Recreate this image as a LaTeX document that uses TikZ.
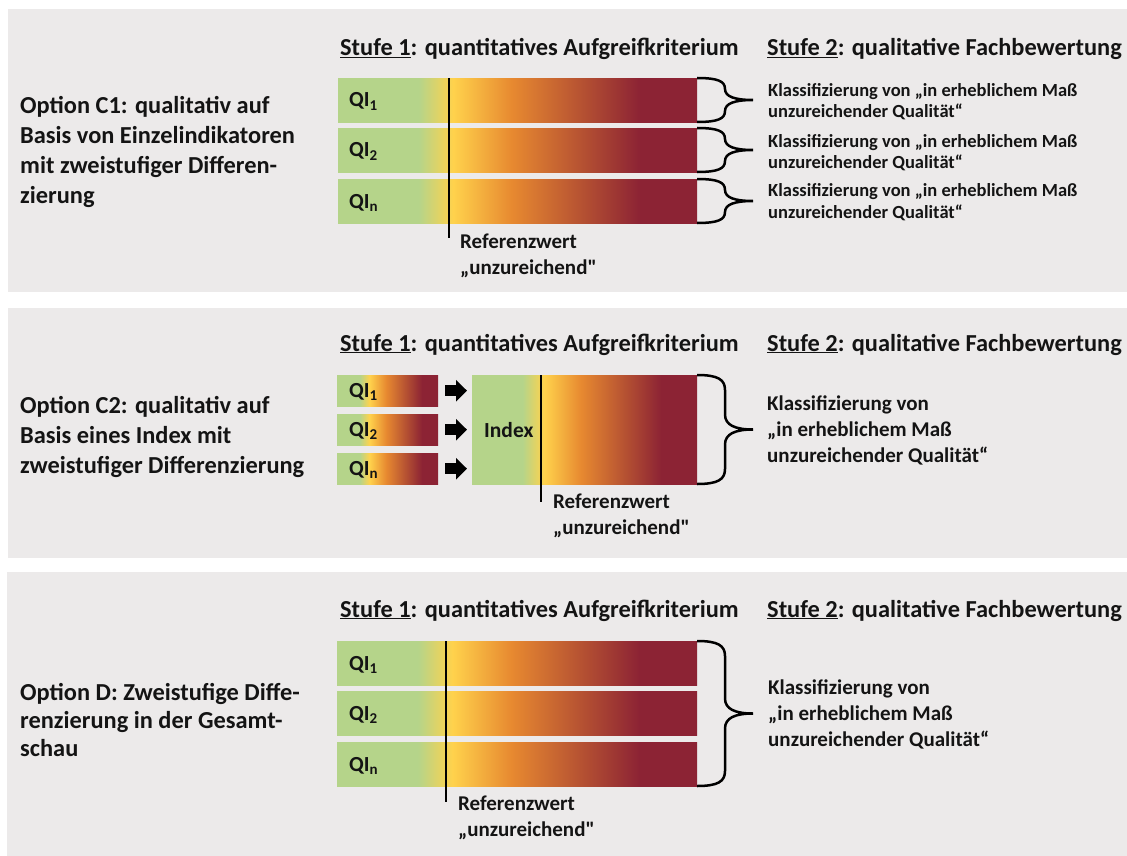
\documentclass[tikz,border=0pt]{standalone}
\usepackage{fontspec}
\setmainfont{Carlito}
\usetikzlibrary{arrows.meta,calc}
\definecolor{panelbg}{RGB}{236,234,234}
\definecolor{qgreen}{RGB}{181,212,138}
\definecolor{qyellow}{RGB}{255,210,76}
\definecolor{qorange}{RGB}{231,137,48}
\definecolor{qred}{RGB}{140,35,52}
\definecolor{txt}{RGB}{20,20,20}
\pgfdeclarehorizontalshading{qishade}{100bp}{color(0bp)=(qgreen); color(36.2bp)=(qgreen); color(41bp)=(qyellow); color(49.2bp)=(qorange); color(67bp)=(qred); color(100bp)=(qred)}
\newcommand\qs[1]{\raisebox{-0.35ex}{\fontsize{15}{15}\selectfont #1}}
% brace: x0, ytop, ybot, r
\newcommand\mybrace[4]{%
\draw[bracestyle] (#1,#2) .. controls ({#1+21},#2) and ({#1+28},{#2+0.3*#4}) .. ({#1+28},{#2+#4})
 -- ({#1+28},{(#2+#3)/2-#4}) .. controls ({#1+28},{(#2+#3)/2-0.3*#4}) and ({#1+38},{(#2+#3)/2}) .. ({#1+56},{(#2+#3)/2})
 .. controls ({#1+38},{(#2+#3)/2}) and ({#1+28},{(#2+#3)/2+0.3*#4}) .. ({#1+28},{(#2+#3)/2+#4})
 -- ({#1+28},{#3-#4}) .. controls ({#1+28},{#3-0.3*#4}) and ({#1+21},#3) .. (#1,#3);}
\begin{document}
\begin{tikzpicture}[x=1pt,y=-1pt,
  bar/.style={shade, shading=qishade, draw=none, inner sep=0pt, anchor=north west},
  head/.style={font=\bfseries\fontsize{24.4}{28}\selectfont, anchor=base west, inner sep=0pt, text=txt},
  opt/.style={font=\bfseries\fontsize{24.4}{30}\selectfont, align=left, anchor=base west, inner sep=0pt, text=txt},
  qi/.style={font=\bfseries\fontsize{21.5}{24}\selectfont, anchor=base west, inner sep=0pt, text=txt},
  refw/.style={font=\bfseries\fontsize{21}{26}\selectfont, align=left, anchor=base west, inner sep=0pt, text=txt},
  klass/.style={font=\bfseries\fontsize{18.5}{21}\selectfont, align=left, anchor=base west, inner sep=0pt, text=txt},
  klassbig/.style={font=\bfseries\fontsize{21}{26}\selectfont, align=left, anchor=base west, inner sep=0pt, text=txt},
  refline/.style={line width=2.5pt, draw=black},
  bracestyle/.style={line width=2.5pt, draw=black},
  blockarrow/.style={line width=11pt, draw=black, -{Triangle[length=11pt,width=21pt]}}
]
\useasboundingbox (0,0) rectangle (1127,856);
\fill[panelbg] (8,9) rectangle (1127,292);
\fill[panelbg] (8,308) rectangle (1127,558);
\fill[panelbg] (7,572) rectangle (1127,856);

% ---------- Panel 1 ----------
\node[head] (h11) at (340,56) {\underline{Stufe 1}: quantitatives Aufgreifkriterium};
\node[head] (h12) at (767,56) {\underline{Stufe 2}: qualitative Fachbewertung};
\node[opt] (o1) at (20,203) {Option C1: qualitativ auf\\Basis von Einzelindikatoren\\mit zweistufiger Differen-\\zierung};
\node[bar, minimum width=359pt, minimum height=44pt] (b11) at (338,78) {};
\node[bar, minimum width=359pt, minimum height=44pt] (b12) at (338,128) {};
\node[bar, minimum width=359pt, minimum height=44pt] (b13) at (338,179) {};
\node[qi] (q11) at (349,107) {QI\qs{1}};
\node[qi] (q12) at (349,157) {QI\qs{2}};
\node[qi] (q13) at (349,208) {QI\qs{n}};
\coordinate (r1t) at (449,78);
\coordinate (r1b) at (449,238);
\draw[refline] (r1t) -- (r1b);
\node[refw] (rw1) at (460,274) {Referenzwert\\„unzureichend\textquotedbl};
\mybrace{697}{78}{122}{11}
\mybrace{697}{128}{172}{11}
\mybrace{697}{179}{223}{11}
\node[klass] (k11) at (768,118) {Klassifizierung von „in erheblichem Maß\\unzureichender Qualität“};
\node[klass] (k12) at (768,168) {Klassifizierung von „in erheblichem Maß\\unzureichender Qualität“};
\node[klass] (k13) at (768,218) {Klassifizierung von „in erheblichem Maß\\unzureichender Qualität“};

% ---------- Panel 2 ----------
\node[head] (h21) at (340,351) {\underline{Stufe 1}: quantitatives Aufgreifkriterium};
\node[head] (h22) at (767,351) {\underline{Stufe 2}: qualitative Fachbewertung};
\node[opt] (o2) at (20,473) {Option C2: qualitativ auf\\Basis eines Index mit\\zweistufiger Differenzierung};
\node[bar, minimum width=101pt, minimum height=31pt] (s1) at (337,375) {};
\node[bar, minimum width=101pt, minimum height=31pt] (s2) at (337,414) {};
\node[bar, minimum width=101pt, minimum height=31pt] (s3) at (337,453) {};
\node[qi] (q21) at (349,397) {QI\qs{1}};
\node[qi] (q22) at (349,436) {QI\qs{2}};
\node[qi] (q23) at (349,475) {QI\qs{n}};
\node[bar, minimum width=225pt, minimum height=109pt] (idx) at (472,375) {};
\node[qi] (idxl) at (484,437) {Index};
\draw[blockarrow] ([xshift=7pt]s1.east) -- ([xshift=-5pt]s1.east -| idx.west);
\draw[blockarrow] ([xshift=7pt]s2.east) -- ([xshift=-5pt]s2.east -| idx.west);
\draw[blockarrow] ([xshift=7pt]s3.east) -- ([xshift=-5pt]s3.east -| idx.west);
\coordinate (r2t) at (541,375);
\coordinate (r2b) at (541,502);
\draw[refline] (r2t) -- (r2b);
\node[refw] (rw2) at (553,534) {Referenzwert\\„unzureichend\textquotedbl};
\mybrace{697}{375}{484}{15}
\node[klassbig] (k2) at (767,462) {Klassifizierung von\\„in erheblichem Maß\\unzureichender Qualität“};

% ---------- Panel 3 ----------
\node[head] (h31) at (340,617) {\underline{Stufe 1}: quantitatives Aufgreifkriterium};
\node[head] (h32) at (767,617) {\underline{Stufe 2}: qualitative Fachbewertung};
\node[opt, font=\bfseries\fontsize{24.4}{28}\selectfont] (o3) at (20,756) {Option D: Zweistufige Diffe-\\renzierung in der Gesamt-\\schau};
\node[bar, minimum width=360pt, minimum height=44pt] (b31) at (337,641) {};
\node[bar, minimum width=360pt, minimum height=44pt] (b32) at (337,691) {};
\node[bar, minimum width=360pt, minimum height=44pt] (b33) at (337,742) {};
\node[qi] (q31) at (349,670) {QI\qs{1}};
\node[qi] (q32) at (349,720) {QI\qs{2}};
\node[qi] (q33) at (349,771) {QI\qs{n}};
\coordinate (r3t) at (446,641);
\coordinate (r3b) at (446,802);
\draw[refline] (r3t) -- (r3b);
\node[refw] (rw3) at (458,836) {Referenzwert\\„unzureichend\textquotedbl};
\mybrace{697}{641}{786}{15}
\node[klassbig] (k3) at (768,746) {Klassifizierung von\\„in erheblichem Maß\\unzureichender Qualität“};
\end{tikzpicture}
\end{document}
